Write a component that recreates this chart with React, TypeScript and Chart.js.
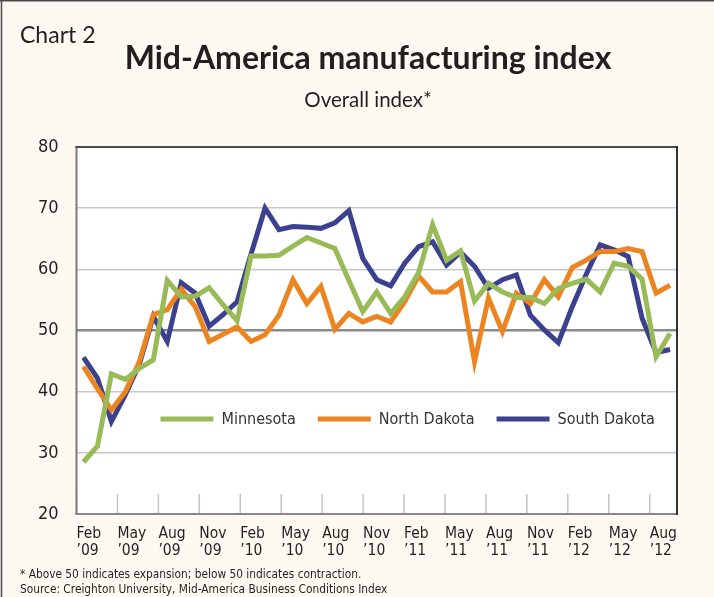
import React, { useEffect, useRef } from "react";
import { Chart, registerables } from "chart.js";

Chart.register(...registerables);

// ---- data ----
const months = [
  "Feb 2009", "Mar 2009", "Apr 2009", "May 2009", "Jun 2009", "Jul 2009", "Aug 2009", "Sep 2009", "Oct 2009", "Nov 2009", "Dec 2009",
  "Jan 2010", "Feb 2010", "Mar 2010", "Apr 2010", "May 2010", "Jun 2010", "Jul 2010", "Aug 2010", "Sep 2010", "Oct 2010", "Nov 2010", "Dec 2010",
  "Jan 2011", "Feb 2011", "Mar 2011", "Apr 2011", "May 2011", "Jun 2011", "Jul 2011", "Aug 2011", "Sep 2011", "Oct 2011", "Nov 2011", "Dec 2011",
  "Jan 2012", "Feb 2012", "Mar 2012", "Apr 2012", "May 2012", "Jun 2012", "Jul 2012", "Aug 2012",
];

const minnesota = [
  28.5, 31.1, 42.9, 42.0, 43.8, 45.2, 58.2, 55.5, 55.6, 57.0, 54.2,
  51.6, 62.2, 62.2, 62.3, 63.8, 65.2, 64.3, 63.4, 58.2, 53.1, 56.3, 52.8,
  55.5, 59.5, 67.3, 61.5, 63.0, 54.8, 57.7, 56.3, 55.4, 55.4, 54.4, 56.9,
  57.7, 58.4, 56.3, 61.0, 60.5, 58.4, 45.7, 49.5,
];

const northDakota = [
  44.1, 40.5, 37.0, 40.0, 44.9, 52.6, 53.4, 56.8, 53.9, 48.2, 49.4,
  50.6, 48.2, 49.3, 52.5, 58.3, 54.4, 57.2, 50.2, 52.8, 51.4, 52.3, 51.4,
  54.7, 58.9, 56.3, 56.3, 58.0, 44.9, 55.3, 49.8, 56.1, 54.4, 58.3, 55.5,
  60.3, 61.5, 62.9, 62.9, 63.4, 62.9, 56.1, 57.4,
];

const southDakota = [
  45.6, 42.2, 35.1, 39.5, 44.5, 52.3, 48.2, 57.8, 56.1, 50.7, 52.6,
  54.7, 62.5, 70.0, 66.5, 67.0, 66.9, 66.7, 67.6, 69.6, 61.8, 58.3, 57.3,
  61.0, 63.7, 64.5, 60.7, 62.8, 60.5, 56.9, 58.3, 59.1, 52.5, 50.1, 48.0,
  53.9, 59.2, 64.0, 63.2, 62.1, 52.0, 46.4, 46.9,
];

const tickLabels = [
  ["Feb", "’09"], ["May", "’09"], ["Aug", "’09"], ["Nov", "’09"],
  ["Feb", "’10"], ["May", "’10"], ["Aug", "’10"], ["Nov", "’10"],
  ["Feb", "’11"], ["May", "’11"], ["Aug", "’11"], ["Nov", "’11"],
  ["Feb", "’12"], ["May", "’12"], ["Aug", "’12"],
];

const seriesNames = ["Minnesota", "North Dakota", "South Dakota"];
const seriesColors = ["#98ba57", "#ec8420", "#3b418f"];

const yMin = 20;
const yMax = 80;
const yStep = 10;
const referenceLevel = 50;

const chartLabel = "Chart 2";
const titleText = "Mid-America manufacturing index";
const subtitleText = "Overall index*";
const noteText = "* Above 50 indicates expansion; below 50 indicates contraction.";
const sourceText = "Source: Creighton University, Mid-America Business Conditions Index";

// ---- styles ----
const W = 714;
const H = 597;
const CREAM = "#fffaf1";
const INK = "#231f20";
const NARROW = "'DejaVu Sans Condensed', 'Liberation Sans Narrow', sans-serif";
const GEO = "Lato, 'Open Sans', sans-serif";

const decor = {
  id: "decor",
  beforeDraw(chart: any) {
    const { ctx, chartArea: a } = chart;
    ctx.save();
    ctx.fillStyle = CREAM;
    ctx.fillRect(0, 0, W, H);
    ctx.strokeStyle = "#4a4a4a";
    ctx.lineWidth = 1.5;
    ctx.beginPath();
    ctx.moveTo(0, 0.75);
    ctx.lineTo(W, 0.75);
    ctx.moveTo(1.5, 0);
    ctx.lineTo(1.5, H);
    ctx.stroke();
    ctx.fillStyle = "#ffffff";
    ctx.fillRect(a.left, a.top, a.right - a.left, a.bottom - a.top);

    ctx.fillStyle = INK;
    ctx.textBaseline = "alphabetic";
    ctx.textAlign = "left";
    ctx.font = `23px ${GEO}`;
    ctx.fillText(chartLabel, 20, 43);
    ctx.textAlign = "center";
    ctx.font = `bold 32px ${GEO}`;
    ctx.fillText(titleText, 368, 69);
    ctx.font = `20.5px ${GEO}`;
    ctx.fillText(subtitleText, 368, 107);
    ctx.textAlign = "left";
    ctx.font = `11.8px ${NARROW}`;
    ctx.fillText(noteText, 20, 578);
    ctx.fillText(sourceText, 20, 593);
    ctx.restore();
  },
  beforeDatasetsDraw(chart: any) {
    const { ctx, chartArea: a } = chart;
    const x2 = chart.scales.x2;
    ctx.save();
    // inward tick marks
    ctx.strokeStyle = "#c4c4c4";
    ctx.lineWidth = 1.5;
    ctx.beginPath();
    x2.ticks.forEach((t: any) => {
      const px = x2.getPixelForValue(t.value);
      ctx.moveTo(px, a.bottom - 20);
      ctx.lineTo(px, a.bottom);
    });
    ctx.stroke();
    // frame
    ctx.lineWidth = 2;
    const seg = (c: string, x1: number, y1: number, xx: number, yy: number) => {
      ctx.strokeStyle = c;
      ctx.beginPath();
      ctx.moveTo(x1, y1);
      ctx.lineTo(xx, yy);
      ctx.stroke();
    };
    seg("#7a7a7a", a.left, a.top - 1, a.left, a.bottom + 1);
    seg("#888888", a.left - 1, a.bottom, a.right + 1, a.bottom);
    seg("#4a4a4a", a.left - 1, a.top, a.right + 1, a.top);
    seg("#333333", a.right, a.top - 1, a.right, a.bottom + 1);
    ctx.restore();
  },
  afterDatasetsDraw(chart: any) {
    const { ctx, chartArea: a } = chart;
    ctx.save();
    ctx.font = `16px ${NARROW}`;
    ctx.textBaseline = "middle";
    ctx.textAlign = "left";
    const y = 419;
    let x = a.left + 84;
    chart.data.datasets.forEach((ds: any) => {
      ctx.strokeStyle = ds.borderColor;
      ctx.lineWidth = 5;
      ctx.beginPath();
      ctx.moveTo(x, y);
      ctx.lineTo(x + 53, y);
      ctx.stroke();
      ctx.fillStyle = "#333333";
      ctx.fillText(ds.label, x + 61, y + 1);
      x += 61 + ctx.measureText(ds.label).width + 22;
    });
    ctx.restore();
  },
};

export default function App() {
  const ref = useRef<HTMLCanvasElement | null>(null);

  useEffect(() => {
    const canvas = ref.current;
    if (!canvas) return;
    const seriesData = [minnesota, northDakota, southDakota];
    const chart = new Chart(canvas, {
      type: "line",
      data: {
        labels: months,
        datasets: seriesNames.map((name, i) => ({
          label: name,
          data: seriesData[i],
          borderColor: seriesColors[i],
          backgroundColor: seriesColors[i],
          borderWidth: 5,
          pointRadius: 0,
          tension: 0,
          fill: false,
          xAxisID: "x",
          yAxisID: "y",
        })),
      },
      options: {
        responsive: false,
        animation: false,
        devicePixelRatio: 1,
        layout: { padding: { top: 147, right: 37, bottom: 0, left: 0 } },
        plugins: {
          legend: { display: false },
          title: { display: false },
          tooltip: { enabled: false },
        },
        scales: {
          x: {
            type: "category",
            display: false,
            offset: true,
          },
          x2: {
            type: "linear",
            position: "bottom",
            min: 0,
            max: 44,
            afterBuildTicks: (axis: any) => {
              axis.ticks = tickLabels.map((_, i) => ({ value: i * 3 }));
            },
            afterFit: (axis: any) => {
              axis.height = 83;
            },
            grid: { display: false, drawTicks: false },
            border: { display: false },
            ticks: {
              autoSkip: false,
              maxRotation: 0,
              minRotation: 0,
              align: "start",
              padding: 11,
              color: INK,
              font: { family: NARROW, size: 15.5, lineHeight: 1.1 },
              callback: (v: any) => {
                const idx = Math.round(Number(v) / 3);
                return tickLabels[idx] ?? null;
              },
            },
          },
          y: {
            type: "linear",
            min: yMin,
            max: yMax,
            afterFit: (axis: any) => {
              axis.width = 76.5;
            },
            border: { display: false },
            grid: {
              drawTicks: false,
              color: (c: any) =>
                c.tick && c.tick.value === referenceLevel ? "#8a8a8a" : "#c8c8c8",
              lineWidth: (c: any) => (c.tick && c.tick.value === referenceLevel ? 2.5 : 1.5),
            },
            ticks: {
              stepSize: yStep,
              padding: 18,
              color: INK,
              font: { family: NARROW, size: 18 },
            },
          },
        },
      },
      plugins: [decor],
    });
    return () => chart.destroy();
  }, []);

  return (
    <div style={{ position: "fixed", left: 0, top: 0, width: W, height: H }}>
      <canvas ref={ref} width={W} height={H} style={{ display: "block", width: W, height: H }} />
    </div>
  );
}
